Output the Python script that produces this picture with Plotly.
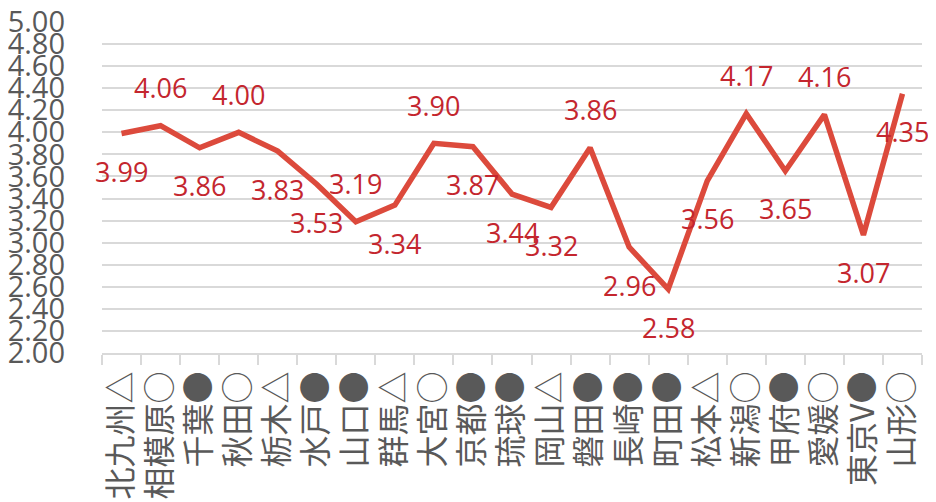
import plotly.graph_objects as go

categories = ["北九州△", "相模原○", "千葉●", "秋田○", "栃木△", "水戸●", "山口●",
              "群馬△", "大宮○", "京都●", "琉球●", "岡山△", "磐田●", "長崎●",
              "町田●", "松本△", "新潟○", "甲府●", "愛媛○", "東京V●", "山形○"]
values = [3.99, 4.06, 3.86, 4.00, 3.83, 3.53, 3.19, 3.34, 3.90, 3.87, 3.44,
          3.32, 3.86, 2.96, 2.58, 3.56, 4.17, 3.65, 4.16, 3.07, 4.35]
label_side = ["below", "above", "below", "above", "below", "below", "above",
              "below", "above", "below", "below", "below", "above", "below",
              "below", "below", "above", "below", "above", "below", "below"]

LINE = "#dc4a3c"
LABEL = "#c4262e"
GRID = "#d9d9d9"
TXT = "#595959"

fig = go.Figure()
fig.add_trace(go.Scatter(
    x=categories, y=values, mode="lines",
    line=dict(color=LINE, width=5.5),
    hoverinfo="skip", showlegend=False,
))

for c, v, s in zip(categories, values, label_side):
    fig.add_annotation(
        x=c, y=v, xref="x", yref="y", text=f"{v:.2f}", showarrow=False,
        yshift=38 if s == "above" else -38,
        font=dict(family="Open Sans, Noto Sans", size=27, color=LABEL),
    )

fig.update_layout(
    width=936, height=502,
    margin=dict(l=94, r=22, t=14, b=157, autoexpand=False),
    paper_bgcolor="white", plot_bgcolor="white",
    xaxis=dict(
        type="category", tickson="boundaries", ticks="outside",
        ticklen=10, tickcolor=GRID, tickwidth=1.5,
        showline=True, linecolor=GRID, linewidth=1.5,
        showgrid=False, tickangle=-90, automargin=False,
        ticklabeloverflow="allow", ticklabelstandoff=4,
        tickfont=dict(family="Noto Sans CJK JP", size=32, color=TXT),
        range=[-0.5, len(categories) - 0.5],
    ),
    yaxis=dict(
        range=[2, 5], dtick=0.2, tick0=2, tickformat=".2f",
        showgrid=True, gridcolor=GRID, gridwidth=1.5, automargin=False,
        zeroline=False, showline=False, ticks="",
        ticklabelstandoff=36, ticklabeloverflow="allow",
        tickfont=dict(family="Open Sans, Noto Sans", size=29, color=TXT),
    ),
)

fig.write_html("out.html")
